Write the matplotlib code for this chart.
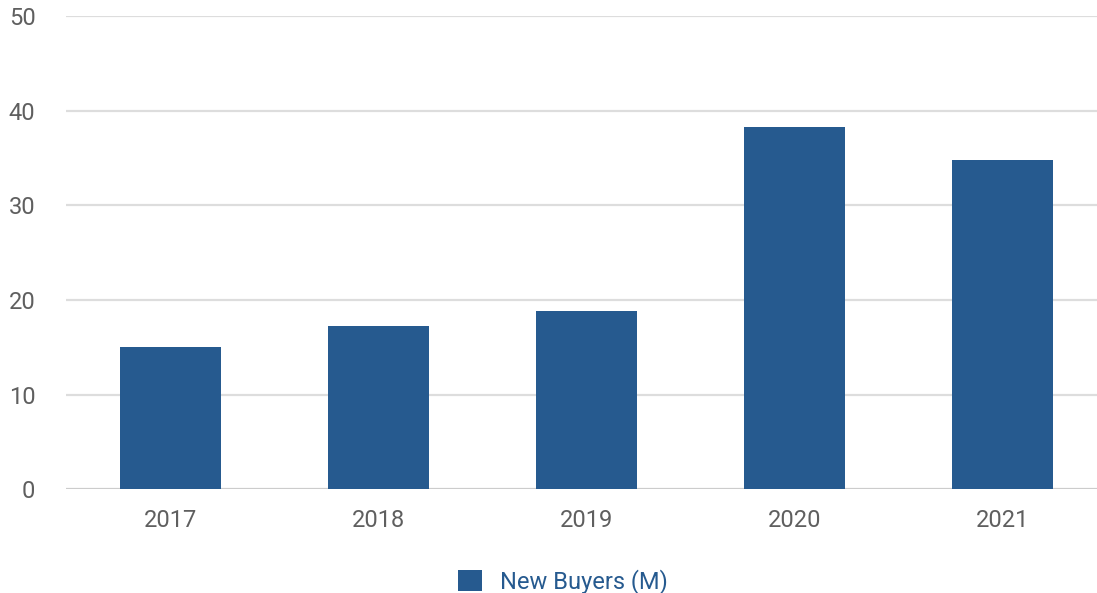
import matplotlib
matplotlib.use("Agg")
import matplotlib.pyplot as plt
from matplotlib.patches import Patch

years = ["2017", "2018", "2019", "2020", "2021"]
new_buyers = [15.0, 17.3, 18.8, 38.3, 34.8]
series_name = "New Buyers (M)"
y_ticks = [0, 10, 20, 30, 40, 50]

bar_color = "#265A8F"
text_color = "#5f5f5f"

plt.rcParams['font.family'] = ['Roboto', 'DejaVu Sans']

fig = plt.figure(figsize=(10.97, 5.93), dpi=100)
ax = fig.add_axes([66/1097, 1-489.3/593, (1097-66)/1097, (489.3-16)/593])

x = list(range(len(years)))
ax.bar(x, new_buyers, width=0.485, color=bar_color, zorder=3)

ax.set_ylim(0, 50)
ax.set_xlim(-0.5, 4.454)
ax.set_yticks(y_ticks)
ax.set_yticklabels([str(t) for t in y_ticks])
ax.set_xticks(x)
ax.set_xticklabels(years)

for t in y_ticks:
    ax.axhline(t, color="#cccccc" if t == 0 else "#dddddd", lw=1.6, zorder=1)

for s in ax.spines.values():
    s.set_visible(False)
ax.tick_params(axis='both', length=0, labelsize=17, labelcolor=text_color)
ax.tick_params(axis='y', pad=22)
ax.tick_params(axis='x', pad=14)

handle = Patch(facecolor=bar_color, edgecolor='none')
leg = fig.legend([handle], [series_name], loc='center', bbox_to_anchor=(563/1097, 1-582/593),
                 frameon=False, fontsize=17, handlelength=1.0, handleheight=1.0,
                 handletextpad=0.75)
for t in leg.get_texts():
    t.set_color(bar_color)

fig.savefig("out.png", dpi=100)
